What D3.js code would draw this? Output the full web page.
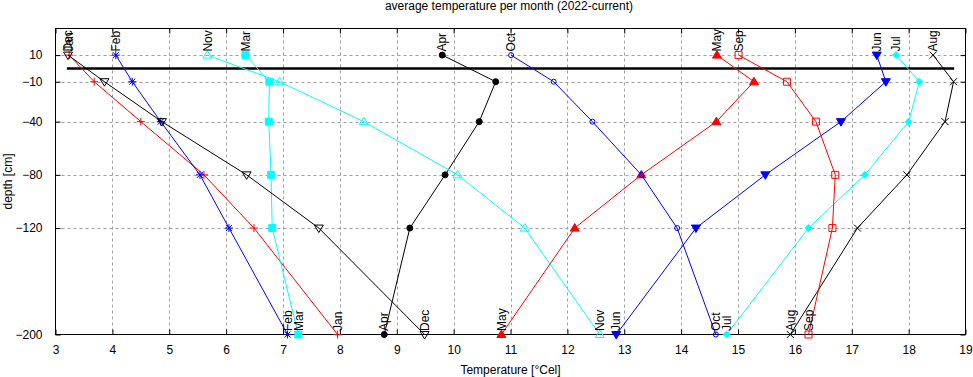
<!DOCTYPE html>
<html>
<head>
<meta charset="utf-8">
<script src="https://cdn.jsdelivr.net/npm/d3@7"></script>
<style>
	body { margin: 0; background: #fff; }
	svg text { font-family: "Liberation Sans", Arial, sans-serif; font-size: 12px; fill: #000; }
</style>
</head>
<body>
<svg id="svg" width="973" height="377"></svg>
<script>
'use strict'

// depth of each sensor [cm]
const depths = [10, -10, -40, -80, -120, -200]

const months = ["Jan", "Feb", "Mar", "Apr", "May", "Jun", "Jul", "Aug", "Sep", "Oct", "Nov", "Dec"]

// mean temperature per depth (same order as depths)
const jan = [3.24, 3.68, 4.50, 5.61, 6.49, 7.96]
const feb = [4.06, 4.35, 4.85, 5.54, 6.05, 7.08]
const mar = [6.34, 6.76, 6.75, 6.79, 6.81, 7.27]
const apr = [9.80, 10.74, 10.45, 9.85, 9.23, 8.78]
const may = [14.63, 15.28, 14.62, 13.30, 12.13, 10.84]
const jun = [17.44, 17.60, 16.81, 15.48, 14.26, 12.86]
const jul = [17.78, 18.19, 18.00, 17.23, 16.24, 14.80]
const aug = [18.43, 18.79, 18.64, 17.97, 17.10, 15.92]
const sep = [15.01, 15.86, 16.37, 16.71, 16.66, 16.24]
const oct = [11.01, 11.76, 12.44, 13.30, 13.93, 14.61]
const nov = [5.67, 6.94, 8.42, 10.07, 11.25, 12.57]
const dec = [3.22, 3.86, 4.87, 6.36, 7.63, 9.49]

// ground surface line
const surfaceDepth = 0
const surfaceTemps = [3.2, 18.8]

const xTicks = [3, 4, 5, 6, 7, 8, 9, 10, 11, 12, 13, 14, 15, 16, 17, 18, 19]
const yTicks = [10, -10, -40, -80, -120, -200]

const title = "average temperature per month (2022-current)"
const xLabel = "Temperature [°Cel]"
const yLabel = "depth [cm]"

// styles (gnuplot-ish)
const colors = ["#ff0000", "#0000ff", "#00ffff", "#000000"]
const markers = ["plus", "star", "fsquare", "fcircle", "ftri", "ftridown", "fdiamond", "cross", "osquare", "ocircle", "otri", "otridown"]

function wrapper(){

	let temps = [jan, feb, mar, apr, may, jun, jul, aug, sep, oct, nov, dec]
	let series = months.map((m, i) => ({
		name: m,
		color: colors[i % 4],
		marker: markers[i],
		pts: depths.map((d, j) => ({ t: temps[i][j], d: d }))
	}))

	let left = 55.5, right = 965.5, top = 28.5, bottom = 334.5

	let x = d3.scaleLinear().domain([3, 19]).range([left, right])
	let y = d3.scaleLinear().domain([-200, 30]).range([bottom, top])

	let svg = d3.select('#svg')

	// grid
	let grid = svg.append('g')
		.attr('stroke', '#a0a0a0')
		.attr('stroke-width', 1)
		.attr('stroke-dasharray', '3,3')
	grid.selectAll('line.gx')
		.data(xTicks.filter(v => v > 3 && v < 19))
		.join('line')
		.attr('x1', d => Math.round(x(d)) + 0.5).attr('x2', d => Math.round(x(d)) + 0.5)
		.attr('y1', top).attr('y2', bottom)
	grid.selectAll('line.gy')
		.data(yTicks.filter(v => v > -200))
		.join('line')
		.attr('class', 'gy')
		.attr('y1', d => Math.round(y(d)) + 0.5).attr('y2', d => Math.round(y(d)) + 0.5)
		.attr('x1', left).attr('x2', right)

	// axes: ticks inside, mirrored
	let tl = 5
	let axB = svg.append('g').attr('transform', `translate(0,${bottom})`)
		.call(d3.axisBottom(x).tickValues(xTicks).tickSize(-tl).tickPadding(11).tickFormat(d3.format('d')))
	let axT = svg.append('g').attr('transform', `translate(0,${top})`)
		.call(d3.axisTop(x).tickValues(xTicks).tickSize(-tl).tickFormat(''))
	let axL = svg.append('g').attr('transform', `translate(${left},0)`)
		.call(d3.axisLeft(y).tickValues(yTicks).tickSize(-tl).tickPadding(13).tickFormat(d3.format('d')))
	let axR = svg.append('g').attr('transform', `translate(${right},0)`)
		.call(d3.axisRight(y).tickValues(yTicks).tickSize(-tl).tickFormat(''))
	svg.selectAll('.domain').remove()
	svg.selectAll('.tick text').attr('font-family', null).attr('font-size', null)
	svg.selectAll('.tick line').attr('stroke', '#000')

	// frame
	svg.append('rect')
		.attr('x', left).attr('y', top)
		.attr('width', right - left).attr('height', bottom - top)
		.attr('fill', 'none').attr('stroke', '#000')

	// ground surface
	svg.append('line')
		.attr('x1', x(surfaceTemps[0])).attr('x2', x(surfaceTemps[1]))
		.attr('y1', y(surfaceDepth)).attr('y2', y(surfaceDepth))
		.attr('stroke', '#000').attr('stroke-width', 2.5)

	let line = d3.line().x(p => x(p.t)).y(p => y(p.d))

	function markerPath(type){
		switch(type){
			case 'plus': return 'M-4,0H4M0,-4V4'
			case 'cross': return 'M-3.5,-3.5L3.5,3.5M-3.5,3.5L3.5,-3.5'
			case 'star': return 'M-4,0H4M0,-4V4M-3,-3L3,3M-3,3L3,-3'
			case 'fsquare': case 'osquare': return 'M-3.5,-3.5H3.5V3.5H-3.5Z'
			case 'fcircle': return 'M-3,0A3,3 0 1,0 3,0A3,3 0 1,0 -3,0Z'
			case 'ocircle': return 'M-2.5,0A2.5,2.5 0 1,0 2.5,0A2.5,2.5 0 1,0 -2.5,0Z'
			case 'ftri': case 'otri': return 'M0,-4.5L4.5,3L-4.5,3Z'
			case 'ftridown': case 'otridown': return 'M0,4.5L4.5,-3L-4.5,-3Z'
			case 'fdiamond': return 'M0,-3.5L3.5,0L0,3.5L-3.5,0Z'
		}
	}

	let g = svg.append('g')
	series.forEach(s => {
		let sg = g.append('g')
		sg.append('path')
			.attr('d', line(s.pts))
			.attr('fill', 'none')
			.attr('stroke', s.color)
			.attr('stroke-width', 1)
		let filled = s.marker[0] == 'f'
		sg.selectAll('path.pt')
			.data(s.pts)
			.join('path')
			.attr('class', 'pt')
			.attr('transform', p => `translate(${x(p.t)},${y(p.d)})`)
			.attr('d', markerPath(s.marker))
			.attr('fill', filled ? s.color : 'none')
			.attr('stroke', s.color)
			.attr('stroke-width', 1)

		// month names at top and bottom sensor
		let ends = [s.pts[0], s.pts[s.pts.length - 1]]
		sg.selectAll('text')
			.data(ends)
			.join('text')
			.attr('transform', p => `translate(${x(p.t)},${y(p.d) - 3.5}) rotate(-90)`)
			.attr('dy', '0.35em')
			.text(s.name)
	})

	// titles
	svg.append('text')
		.attr('x', 509).attr('y', 10)
		.attr('text-anchor', 'middle')
		.text(title)
	svg.append('text')
		.attr('x', (left + right) / 2).attr('y', 374)
		.attr('text-anchor', 'middle')
		.text(xLabel)
	svg.append('text')
		.attr('transform', `translate(12,${(top + bottom) / 2}) rotate(-90)`)
		.attr('text-anchor', 'middle')
		.text(yLabel)
}

wrapper()
</script>
</body>
</html>
